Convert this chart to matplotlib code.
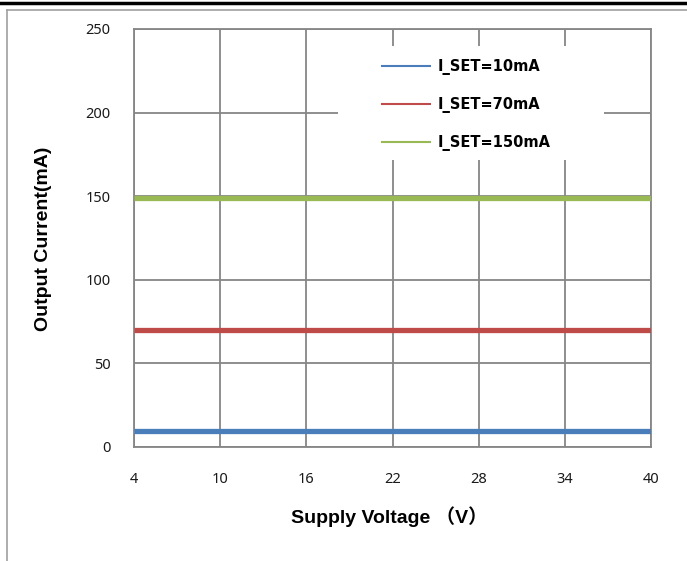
import matplotlib
matplotlib.use("Agg")
import matplotlib.pyplot as plt
from matplotlib.lines import Line2D
from matplotlib.patches import Rectangle

# data
voltage = [4, 10, 16, 22, 28, 34, 40]
i_10mA = [9.5, 9.5, 9.5, 9.5, 9.5, 9.5, 9.5]
i_70mA = [70, 70, 70, 70, 70, 70, 70]
i_150mA = [149, 149, 149, 149, 149, 149, 149]
series_labels = ["I_SET=10mA", "I_SET=70mA", "I_SET=150mA"]
x_ticks = [4, 10, 16, 22, 28, 34, 40]
y_ticks = [0, 50, 100, 150, 200, 250]

W, H = 687, 561
fig = plt.figure(figsize=(W / 100, H / 100), dpi=100)
ax = fig.add_axes([134 / W, 1 - 447 / H, (651 - 134) / W, (447 - 29) / H])

colors = ["#4a7ebb", "#be4b48", "#98b954"]
for ys, c, lab in zip([i_10mA, i_70mA, i_150mA], colors, series_labels):
    ax.plot(voltage, ys, color=c, lw=3.8, solid_capstyle="butt", label=lab, zorder=3)

ax.set_xlim(4, 40)
ax.set_ylim(0, 250)
ax.set_xticks(x_ticks)
ax.set_yticks(y_ticks)
ax.grid(True, color="#868686", lw=1.3, zorder=1)
ax.set_axisbelow(True)
for s in ax.spines.values():
    s.set_color("#868686")
    s.set_linewidth(1.3)
ax.tick_params(length=0, labelsize=10.5, colors="#1a1a1a")
ax.tick_params(axis="y", pad=17)
ax.tick_params(axis="x", pad=18)
for t in ax.get_xticklabels() + ax.get_yticklabels():
    t.set_fontfamily("Noto Sans")

ax.set_ylabel("Output Current(mA)", fontsize=14, fontweight="bold",
              family=["Liberation Sans", "Noto Sans CJK SC"], va="center")
ax.yaxis.set_label_coords((44 - 134) / 517, 0.497)
ax.set_xlabel("Supply Voltage （V）", fontsize=14, fontweight="bold",
              family=["Liberation Sans", "Noto Sans CJK SC"], va="center")
ax.xaxis.set_label_coords(0.493, (447 - 517) / 418)

# white legend area that hides the grid
ax.add_patch(Rectangle(((338 - 134) / 517, (447 - 160) / 418), (604 - 338) / 517, 114 / 418,
                       transform=ax.transAxes, facecolor="white", edgecolor="none", zorder=2))
leg = ax.legend(loc="upper left", bbox_to_anchor=((381 - 134) / 517, (447 - 59) / 418),
                frameon=False, borderpad=0, borderaxespad=0, handlelength=3.4,
                handletextpad=0.45, labelspacing=1.5,
                prop={"family": "DejaVu Sans", "weight": "bold", "size": 10.5})
for h in leg.get_lines():
    h.set_linewidth(1.5)
leg.set_zorder(4)

# outer frame
fig.add_artist(Line2D([0, 1], [1 - 3 / H, 1 - 3 / H], color="black", lw=2.5))
fig.add_artist(Line2D([6.6 / W, 1], [1 - 9.5 / H, 1 - 9.5 / H], color="#a0a0a0", lw=1.2))
fig.add_artist(Line2D([6.6 / W, 6.6 / W], [1 - 9.5 / H, 0], color="#a0a0a0", lw=1.2))

fig.savefig("out.png", dpi=100)
